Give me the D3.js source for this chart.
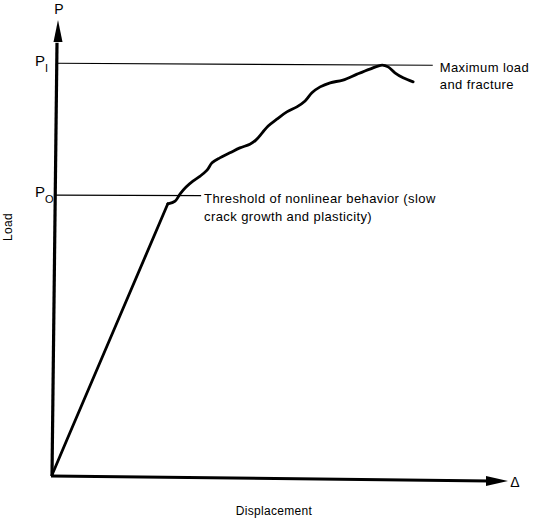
<!DOCTYPE html>
<html>
<head>
<meta charset="utf-8">
<script src="https://cdn.jsdelivr.net/npm/d3@7"></script>
<style>
  html, body { margin: 0; padding: 0; background: #fff; }
  svg { display: block; }
  text { font-family: "Liberation Sans", Arial, sans-serif; fill: #000; }
</style>
</head>
<body>
<svg id="chart" width="537" height="522"></svg>
<script>
// Displacement (arbitrary units, 0..100 along the axis)
const displacement = [0, 3.3, 14.9, 25.4, 27.0, 28.1, 29.4, 30.9, 32.5, 34.0, 35.1, 36.8, 39.0, 41.2, 43.4, 44.7, 46.1, 47.4, 49.3, 51.5, 53.7, 55.5, 57.0, 58.8, 61.0, 63.8, 66.9, 69.7, 72.4, 73.7, 75.2, 77.0, 79.2];
// Load (arbitrary units, 0..100 along the axis)
const load = [0, 7.8, 35.0, 59.6, 60.2, 61.8, 63.3, 64.6, 65.7, 67.0, 68.6, 69.7, 70.8, 71.9, 72.7, 73.6, 75.2, 76.7, 78.2, 79.8, 80.9, 82.2, 84.0, 85.3, 86.2, 86.8, 88.1, 89.2, 90.1, 89.7, 88.4, 87.3, 86.4];
const linearEndIndex = 3; // end of the linear-elastic part
// Reference levels
const levelNames = ["P0", "P1"];
const levelValues = [61.5, 90.5];
const levelNotes = [
  ["Threshold of nonlinear behavior (slow", "crack growth and plasticity)"],
  ["Maximum load", "and fracture"]
];
const levelLineEnd = [32.7, 83.5]; // displacement where each level line ends
const axisTitles = ["Displacement", "Load"];
const axisEnds = ["\u0394", "P"];

const svg = d3.select("#chart");
const x = d3.scaleLinear().domain([0, 100]).range([52, 508]);
const y = d3.scaleLinear().domain([0, 100]).range([475, 20]);

// axes
const ax = svg.append("g");
ax.append("line")
  .attr("x1", x(0)).attr("y1", y(0) + 1)
  .attr("x2", x(0) + 5).attr("y2", y(95))
  .attr("stroke", "#000").attr("stroke-width", 3.2);
ax.append("path")
  .attr("d", `M${x(0)+6},${y(100)} L${x(0)+10.5},${y(100)+22} L${x(0)+1.5},${y(100)+22} Z`)
  .attr("fill", "#000");
ax.append("line")
  .attr("x1", x(0) - 1).attr("y1", y(0) + 1)
  .attr("x2", x(96)).attr("y2", y(0) + 6)
  .attr("stroke", "#000").attr("stroke-width", 3);
ax.append("path")
  .attr("d", `M${x(100)},${y(0)+6} L${x(100)-22},${y(0)+1} L${x(100)-22},${y(0)+11} Z`)
  .attr("fill", "#000");

// level lines
levelValues.forEach((v, i) => {
  svg.append("line")
    .attr("x1", x(0) + 4).attr("y1", y(v))
    .attr("x2", x(levelLineEnd[i])).attr("y2", y(v) + (i === 1 ? 2 : 0.5))
    .attr("stroke", "#000").attr("stroke-width", 1.2);
});

// curve: straight elastic part + smooth nonlinear part
const pts = displacement.map((d, i) => [d, load[i]]);
const straight = d3.line().x(d => x(d[0])).y(d => y(d[1])).curve(d3.curveLinear);
const smooth = d3.line().x(d => x(d[0])).y(d => y(d[1])).curve(d3.curveCatmullRom.alpha(0.5));
const curveStyle = sel => sel.attr("fill", "none").attr("stroke", "#000")
  .attr("stroke-width", 2.8).attr("stroke-linejoin", "round").attr("stroke-linecap", "round");
svg.append("path").attr("d", straight(pts.slice(0, linearEndIndex + 1))).call(curveStyle);
svg.append("path").attr("d", smooth(pts.slice(linearEndIndex))).call(curveStyle);

// level labels on the y axis
const subs = ["O", "I"];
levelValues.forEach((v, i) => {
  const t = svg.append("text")
    .attr("x", 35).attr("y", y(v) + (i === 1 ? 3 : 2))
    .style("font-size", "15px");
  t.append("tspan").text("P");
  t.append("tspan").attr("dy", 6).style("font-size", "11px").text(subs[i]);
});

// notes
levelValues.forEach((v, i) => {
  const nx = x(levelLineEnd[i]) + (i === 1 ? 7 : 3);
  const by = i === 1 ? 72 : 203;
  levelNotes[i].forEach((s, k) => {
    svg.append("text")
      .attr("x", nx).attr("y", by + k * (i === 1 ? 16.5 : 18))
      .style("font-size", "13px")
      .style("letter-spacing", "0.4px")
      .text(s);
  });
});

// axis end labels
svg.append("text").attr("x", 515).attr("y", 487)
  .attr("text-anchor", "middle").style("font-size", "14px").text(axisEnds[0]);
svg.append("text").attr("x", 59).attr("y", 14)
  .attr("text-anchor", "middle").style("font-size", "14px").text(axisEnds[1]);

// axis titles
svg.append("text").attr("x", 274).attr("y", 515)
  .attr("text-anchor", "middle").style("font-size", "12px")
  .style("letter-spacing", "0.3px").text(axisTitles[0]);
svg.append("text")
  .attr("transform", "translate(12,227) rotate(-90)")
  .attr("text-anchor", "middle").style("font-size", "12px")
  .style("letter-spacing", "0.3px").text(axisTitles[1]);
</script>
</body>
</html>
